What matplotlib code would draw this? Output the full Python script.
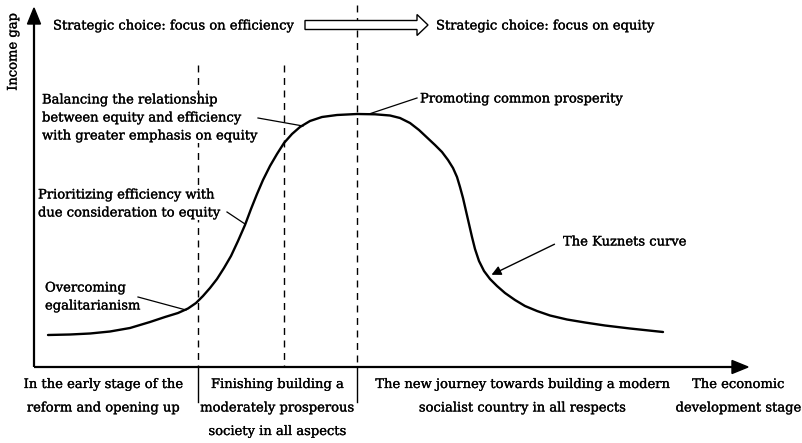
import matplotlib
matplotlib.use("Agg")
import matplotlib.pyplot as plt
import matplotlib.patches as mpatches
import matplotlib.patheffects as pe

# ---- data (schematic Kuznets curve; x = development stage, y = income gap, screen units) ----
curve_x = [48, 70, 90, 110, 130, 150, 165, 178, 188, 196, 203, 210, 217, 224, 231, 238, 245, 251, 257, 263,
           270, 277, 284, 292, 300, 310, 322, 337, 357, 375, 390, 400, 410, 419, 427, 435, 442, 448, 453, 457,
           460, 463, 466, 469, 472, 475, 479, 484, 490, 497, 505, 515, 525, 537, 550, 567, 585, 605, 630, 663]
curve_y = [335, 334.5, 333.5, 331.5, 328, 322, 317, 313, 308.5, 303, 296, 288, 279, 268, 256, 241, 225, 209, 194, 180,
           166, 154, 143, 134, 127, 121, 117, 115, 114, 114.3, 115.5, 118, 123, 130, 137.5, 145, 152, 160, 168, 177,
           187, 198, 211, 224, 237, 249, 261, 271, 279, 286, 293, 300, 306, 311, 315.5, 319.5, 322.5, 325.5, 328.5, 332]

stage_bounds = [198, 284, 357]          # dashed vertical lines
stage_labels = ["In the early stage of the\nreform and opening up",
                "Finishing building a\nmoderately prosperous\nsociety in all aspects",
                "The new journey towards building a modern\nsocialist country in all respects",
                "The economic\ndevelopment stage"]
stage_label_x = [103, 277, 522, 738]

W, H = 803, 443
fig = plt.figure(figsize=(W / 100, H / 100), dpi=100)
ax = fig.add_axes([0, 0, 1, 1])
ax.set_xlim(0, W)
ax.set_ylim(H, 0)
ax.axis("off")

FONT = "DejaVu Serif"
def px(p):
    return p * 72 / 100
fs = px(13.1)
heavy = [pe.withStroke(linewidth=0.2, foreground="black")]
TXT = dict(fontsize=fs, family=FONT, path_effects=heavy, zorder=4)
MASK = dict(boxstyle="square,pad=0.05", facecolor="white", edgecolor="none")

ox, oy = 34, 367  # origin

# axes with arrows
ax.plot([ox, ox], [oy, 24], color="black", lw=1.6, solid_capstyle="butt")
ax.add_patch(mpatches.Polygon([[ox - 6.5, 24], [ox + 6.5, 24], [ox, 8]], closed=True, color="black"))
ax.plot([ox, 733], [oy, oy], color="black", lw=1.6, solid_capstyle="butt")
ax.add_patch(mpatches.Polygon([[732, oy - 6.5], [732, oy + 6.5], [748, oy]], closed=True, color="black"))

# dashed stage lines
tops = [65, 65, 5]
for xb, top in zip(stage_bounds, tops):
    ax.plot([xb, xb], [top, oy], color="black", lw=1.0, linestyle=(0, (5, 4)), zorder=1)
# solid separators under axis
for xb in [stage_bounds[0], stage_bounds[2]]:
    ax.plot([xb, xb], [oy, 402], color="black", lw=1.0)

# hollow strategic arrow
arr = mpatches.FancyArrow(305, 25, 123, 0, width=9, head_width=21, head_length=11,
                          length_includes_head=True, facecolor="white", edgecolor="black", lw=1.0, zorder=3)
ax.add_patch(arr)

# curve
ax.plot(curve_x, curve_y, color="black", lw=1.7, zorder=2, solid_capstyle="round", solid_joinstyle="round")

# texts
ax.text(13, 52, "Income gap", rotation=90, ha="center", va="center", **TXT)
ax.text(53, 26, "Strategic choice: focus on efficiency", ha="left", va="center", **TXT)
ax.text(436, 26, "Strategic choice: focus on equity", ha="left", va="center", **TXT)

ax.text(42, 118, "Balancing the relationship\nbetween equity and efficiency\nwith greater emphasis on equity",
        ha="left", va="center", linespacing=1.5, bbox=MASK, **TXT)
ax.plot([258, 303], [118, 126], color="black", lw=0.9)

ax.text(420, 99, "Promoting common prosperity", ha="left", va="center", **TXT)
ax.plot([369, 417], [114, 98], color="black", lw=0.9)

ax.text(38, 204, "Prioritizing efficiency with\ndue consideration to equity",
        ha="left", va="center", linespacing=1.5, bbox=MASK, **TXT)
ax.plot([227, 245], [212, 224], color="black", lw=0.9)

ax.text(45, 297, "Overcoming\negalitarianism", ha="left", va="center", linespacing=1.5, **TXT)
ax.plot([138, 186], [297, 310], color="black", lw=0.9)

ax.text(563, 242, "The Kuznets curve", ha="left", va="center", **TXT)
ax.annotate("", xy=(489, 276), xytext=(557, 243),
            arrowprops=dict(arrowstyle="-|>", color="black", lw=1.0, mutation_scale=14))

for lab, lx in zip(stage_labels, stage_label_x):
    ax.text(lx, 378, lab, ha="center", va="top", linespacing=2.05, **TXT)

fig.savefig("out.png", dpi=100)
